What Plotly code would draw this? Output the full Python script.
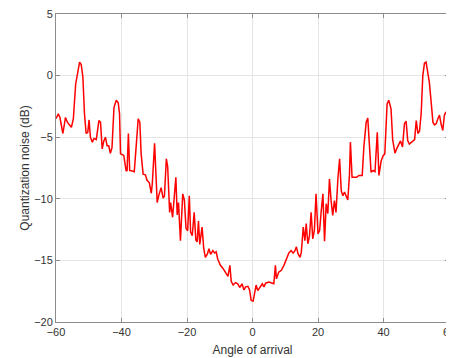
import plotly.graph_objects as go

angle = [
    -60.0, -59.3, -58.8, -57.9, -57.1, -56.5, -55.3, -54.7, -54.0, -53.5,
    -52.8, -52.3, -51.8, -51.3, -50.8, -50.3, -49.9, -49.5, -48.9, -48.4,
    -47.7, -46.9, -46.4, -45.9, -45.4, -44.9, -44.4, -43.9, -43.4, -42.9,
    -42.3, -41.6, -41.0, -40.6, -40.3, -39.8, -39.3, -38.6, -38.3, -37.9,
    -37.5, -36.8, -36.1, -35.4, -34.9, -34.4, -34.0, -33.4, -32.7, -32.2,
    -31.5, -30.9, -30.6, -29.9, -29.1, -28.6, -27.9, -27.3, -26.9, -26.3,
    -25.9, -25.3, -25.0, -24.4, -23.4, -23.0, -22.6, -22.0, -21.3, -20.8,
    -20.3, -19.8, -19.3, -18.9, -18.4, -17.8, -17.3, -16.9, -16.5, -16.1,
    -15.4, -14.9, -14.4, -13.8, -13.3, -12.8, -12.1, -11.6, -11.1, -10.6,
    -9.8, -9.0, -8.2, -7.5, -6.9, -6.5, -5.9, -5.2, -4.5, -3.9,
    -3.2, -2.6, -2.1, -1.4, -0.9, -0.4, 0.2, 0.7,
    1.1, 1.6, 2.4, 3.0, 3.5, 4.0, 5.0, 6.0, 6.5, 7.0,
    7.3, 8.0, 8.8, 9.6, 10.4, 11.1, 11.8, 12.4, 12.9, 13.4,
    13.9, 14.5, 14.9, 15.5, 16.0, 16.4, 16.9, 17.4, 17.9, 18.4,
    18.9, 19.4, 20.0, 20.5, 21.0, 21.5, 22.0, 22.5, 23.0, 23.5,
    24.0, 24.5, 25.0, 25.5, 26.1, 26.6, 27.1, 27.6, 28.1, 28.6,
    29.1, 29.6, 29.9, 30.4, 31.8, 32.5, 33.5, 34.0, 34.7, 35.2,
    35.7, 36.2, 36.8, 37.4, 38.1, 38.6, 39.3, 39.9, 40.4, 41.1,
    41.6, 42.3, 42.8, 43.5, 44.0, 44.7, 45.2, 45.8, 46.4, 46.9,
    47.4, 47.9, 48.8, 49.5, 50.0, 50.5, 51.0, 51.5, 52.0, 52.5,
    53.0, 53.5, 54.0, 54.6, 55.1, 55.6, 56.1, 56.6, 57.1, 57.6,
    58.1, 58.6, 59.1, 59.6, 60.0,
]

noise_db = [
    -3.5, -3.1, -3.4, -4.7, -3.4, -3.8, -4.2, -3.5, -0.7, 0.0,
    1.1, 0.9, -0.1, -3.1, -4.7, -4.6, -3.6, -5.0, -5.4, -5.1,
    -5.2, -3.65, -3.8, -5.95, -5.3, -5.0, -5.7, -5.7, -6.3, -5.85,
    -2.6, -2.0, -2.2, -3.1, -6.35, -6.4, -6.5, -7.7, -7.75, -4.7,
    -7.7, -7.75, -7.8, -5.3, -3.5, -3.8, -6.35, -8.0, -8.05, -8.5,
    -8.7, -9.55, -8.8, -5.5, -10.3, -9.7, -9.1, -9.95, -9.8, -6.75,
    -7.4, -11.1, -10.3, -11.5, -8.25, -11.3, -10.3, -13.4, -9.6, -10.1,
    -12.4, -12.6, -9.75, -12.7, -13.0, -11.1, -13.35, -13.5, -11.8, -13.7,
    -12.3, -14.0, -14.75, -14.5, -14.05, -14.5, -14.2, -14.4, -14.3, -14.9,
    -15.4, -15.65, -15.95, -16.3, -15.4, -16.7, -17.0, -16.8, -16.9, -17.2,
    -16.9, -17.4, -17.15, -17.1, -17.4, -18.25, -18.3, -17.6,
    -17.0, -17.45, -17.15, -16.9, -17.15, -16.85, -16.75, -16.85, -16.9, -15.4,
    -16.5, -15.95, -15.8, -15.4, -14.85, -14.4, -14.2, -14.4, -14.25, -13.9,
    -14.45, -14.75, -14.35, -12.3, -13.4, -12.0, -13.65, -13.0, -11.1, -13.25,
    -12.55, -9.6, -12.85, -12.55, -10.95, -9.6, -13.45, -10.4, -11.2, -8.4,
    -10.15, -11.35, -10.15, -11.1, -8.25, -6.75, -9.35, -9.75, -9.45, -9.75,
    -10.1, -8.1, -5.4, -8.25, -8.25, -8.1, -8.1, -5.8, -3.8, -3.45,
    -6.1, -7.85, -7.7, -7.8, -4.6, -8.1, -6.9, -6.5, -6.35, -2.3,
    -2.0, -2.7, -5.2, -6.3, -5.95, -5.55, -5.3, -5.8, -3.9, -3.7,
    -5.3, -5.55, -5.35, -5.2, -3.65, -4.7, -4.5, -3.1, 0.0, 1.0,
    1.1, 0.3, -0.55, -2.3, -3.8, -4.0, -3.9, -3.5, -3.2, -3.95,
    -4.45, -3.2, -2.95, -3.45, -3.45,
]

x_ticks = [-60, -40, -20, 0, 20, 40, 60]
y_ticks = [-20, -15, -10, -5, 0, 5]

FONT = "Liberation Sans, Arial, sans-serif"
TXT = "#333333"

fig = go.Figure()
fig.add_trace(go.Scatter(
    x=angle, y=noise_db, mode="lines",
    line=dict(color="#ff0000", width=1.5),
    showlegend=False,
))

axis_common = dict(
    showline=True, linecolor="#8c8c8c", linewidth=1, mirror="ticks",
    ticks="inside", ticklen=4, tickcolor="#8c8c8c",
    showgrid=True, gridcolor="#e4e4e4", gridwidth=1,
    zeroline=False, automargin=False, ticklabeloverflow="allow",
    tickfont=dict(family=FONT, size=11, color=TXT),
)

# the page body adds an 8px offset, so the figure is 8px smaller than the window
fig.update_layout(
    width=446, height=350,
    margin=dict(l=48, r=5, t=6, b=36),
    paper_bgcolor="white", plot_bgcolor="white",
    xaxis=dict(range=[-60, 60], tickvals=x_ticks,
               title=dict(text="Angle of arrival", standoff=8,
                          font=dict(family=FONT, size=12, color=TXT)),
               **axis_common),
    yaxis=dict(range=[-20, 5], tickvals=y_ticks,
               title=dict(text="Quantization noise (dB)", standoff=1,
                          font=dict(family=FONT, size=12, color=TXT)),
               **axis_common),
)

fig.write_html("out.html")
